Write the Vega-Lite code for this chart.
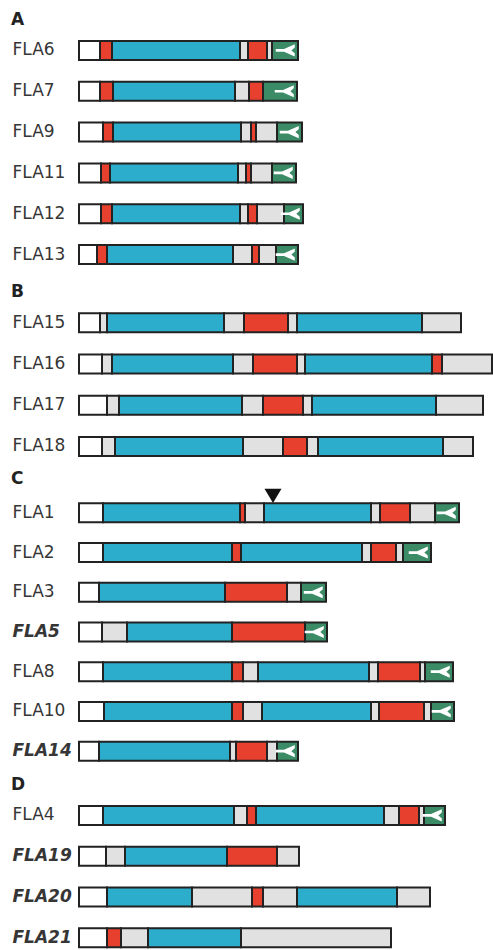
{
  "$schema": "https://vega.github.io/schema/vega-lite/v6.json",
  "background": "white",
  "padding": {"left": 0, "top": 11, "right": 0, "bottom": 0},
  "spacing": 8,
  "config": {
    "view": {"stroke": null},
    "title": {"anchor": "start", "frame": "group", "offset": 1, "dx": 11, "font": "DejaVu Sans", "fontSize": 17, "fontWeight": "bold", "color": "#222", "baseline": "bottom"},
    "axis": {
      "domain": false, "ticks": false, "tickSize": 0, "grid": false, "labelPadding": -12, "labelAlign": "left", "labelBaseline": "middle",
      "labelFont": "DejaVu Sans", "labelFontSize": 17, "labelColor": "#363636", "labelLimit": 200, "title": null,
      "labelFontStyle": {"condition": {"test": "indexof(['FLA5','FLA14','FLA19','FLA20','FLA21'], datum.value) >= 0", "value": "italic"}, "value": "normal"},
      "labelFontWeight": {"condition": {"test": "indexof(['FLA5','FLA14','FLA19','FLA20','FLA21'], datum.value) >= 0", "value": "bold"}, "value": "normal"}
    }
  },
  "datasets": {
    "segments": [
      {"section": "A", "protein": "FLA6", "type": "n", "start": 79, "end": 100},
      {"section": "A", "protein": "FLA6", "type": "red", "start": 100, "end": 112},
      {"section": "A", "protein": "FLA6", "type": "blue", "start": 112, "end": 240},
      {"section": "A", "protein": "FLA6", "type": "grey", "start": 240, "end": 248},
      {"section": "A", "protein": "FLA6", "type": "red", "start": 248, "end": 267},
      {"section": "A", "protein": "FLA6", "type": "grey", "start": 267, "end": 272},
      {"section": "A", "protein": "FLA6", "type": "gpi", "start": 272, "end": 298},
      {"section": "A", "protein": "FLA7", "type": "n", "start": 79, "end": 100},
      {"section": "A", "protein": "FLA7", "type": "red", "start": 100, "end": 113},
      {"section": "A", "protein": "FLA7", "type": "blue", "start": 113, "end": 235},
      {"section": "A", "protein": "FLA7", "type": "grey", "start": 235, "end": 249},
      {"section": "A", "protein": "FLA7", "type": "red", "start": 249, "end": 263},
      {"section": "A", "protein": "FLA7", "type": "gpi", "start": 263, "end": 297},
      {"section": "A", "protein": "FLA9", "type": "n", "start": 79, "end": 103},
      {"section": "A", "protein": "FLA9", "type": "red", "start": 103, "end": 113},
      {"section": "A", "protein": "FLA9", "type": "blue", "start": 113, "end": 241},
      {"section": "A", "protein": "FLA9", "type": "grey", "start": 241, "end": 251},
      {"section": "A", "protein": "FLA9", "type": "red", "start": 251, "end": 256},
      {"section": "A", "protein": "FLA9", "type": "grey", "start": 256, "end": 277},
      {"section": "A", "protein": "FLA9", "type": "gpi", "start": 277, "end": 302},
      {"section": "A", "protein": "FLA11", "type": "n", "start": 79, "end": 101},
      {"section": "A", "protein": "FLA11", "type": "red", "start": 101, "end": 110},
      {"section": "A", "protein": "FLA11", "type": "blue", "start": 110, "end": 238},
      {"section": "A", "protein": "FLA11", "type": "grey", "start": 238, "end": 246},
      {"section": "A", "protein": "FLA11", "type": "red", "start": 246, "end": 251},
      {"section": "A", "protein": "FLA11", "type": "grey", "start": 251, "end": 272},
      {"section": "A", "protein": "FLA11", "type": "gpi", "start": 272, "end": 296},
      {"section": "A", "protein": "FLA12", "type": "n", "start": 79, "end": 101},
      {"section": "A", "protein": "FLA12", "type": "red", "start": 101, "end": 112},
      {"section": "A", "protein": "FLA12", "type": "blue", "start": 112, "end": 240},
      {"section": "A", "protein": "FLA12", "type": "grey", "start": 240, "end": 248},
      {"section": "A", "protein": "FLA12", "type": "red", "start": 248, "end": 257},
      {"section": "A", "protein": "FLA12", "type": "grey", "start": 257, "end": 284},
      {"section": "A", "protein": "FLA12", "type": "gpi", "start": 284, "end": 303},
      {"section": "A", "protein": "FLA13", "type": "n", "start": 79, "end": 97},
      {"section": "A", "protein": "FLA13", "type": "red", "start": 97, "end": 107},
      {"section": "A", "protein": "FLA13", "type": "blue", "start": 107, "end": 233},
      {"section": "A", "protein": "FLA13", "type": "grey", "start": 233, "end": 252},
      {"section": "A", "protein": "FLA13", "type": "red", "start": 252, "end": 259},
      {"section": "A", "protein": "FLA13", "type": "grey", "start": 259, "end": 276},
      {"section": "A", "protein": "FLA13", "type": "gpi", "start": 276, "end": 298},
      {"section": "B", "protein": "FLA15", "type": "n", "start": 79, "end": 100},
      {"section": "B", "protein": "FLA15", "type": "grey", "start": 100, "end": 107},
      {"section": "B", "protein": "FLA15", "type": "blue", "start": 107, "end": 224},
      {"section": "B", "protein": "FLA15", "type": "grey", "start": 224, "end": 244},
      {"section": "B", "protein": "FLA15", "type": "red", "start": 244, "end": 288},
      {"section": "B", "protein": "FLA15", "type": "grey", "start": 288, "end": 297},
      {"section": "B", "protein": "FLA15", "type": "blue", "start": 297, "end": 422},
      {"section": "B", "protein": "FLA15", "type": "grey", "start": 422, "end": 461},
      {"section": "B", "protein": "FLA16", "type": "n", "start": 79, "end": 102},
      {"section": "B", "protein": "FLA16", "type": "grey", "start": 102, "end": 112},
      {"section": "B", "protein": "FLA16", "type": "blue", "start": 112, "end": 233},
      {"section": "B", "protein": "FLA16", "type": "grey", "start": 233, "end": 253},
      {"section": "B", "protein": "FLA16", "type": "red", "start": 253, "end": 297},
      {"section": "B", "protein": "FLA16", "type": "grey", "start": 297, "end": 305},
      {"section": "B", "protein": "FLA16", "type": "blue", "start": 305, "end": 432},
      {"section": "B", "protein": "FLA16", "type": "red", "start": 432, "end": 442},
      {"section": "B", "protein": "FLA16", "type": "grey", "start": 442, "end": 492},
      {"section": "B", "protein": "FLA17", "type": "n", "start": 79, "end": 107},
      {"section": "B", "protein": "FLA17", "type": "grey", "start": 107, "end": 119},
      {"section": "B", "protein": "FLA17", "type": "blue", "start": 119, "end": 242},
      {"section": "B", "protein": "FLA17", "type": "grey", "start": 242, "end": 263},
      {"section": "B", "protein": "FLA17", "type": "red", "start": 263, "end": 303},
      {"section": "B", "protein": "FLA17", "type": "grey", "start": 303, "end": 312},
      {"section": "B", "protein": "FLA17", "type": "blue", "start": 312, "end": 436},
      {"section": "B", "protein": "FLA17", "type": "grey", "start": 436, "end": 483},
      {"section": "B", "protein": "FLA18", "type": "n", "start": 79, "end": 102},
      {"section": "B", "protein": "FLA18", "type": "grey", "start": 102, "end": 115},
      {"section": "B", "protein": "FLA18", "type": "blue", "start": 115, "end": 243},
      {"section": "B", "protein": "FLA18", "type": "grey", "start": 243, "end": 283},
      {"section": "B", "protein": "FLA18", "type": "red", "start": 283, "end": 307},
      {"section": "B", "protein": "FLA18", "type": "grey", "start": 307, "end": 318},
      {"section": "B", "protein": "FLA18", "type": "blue", "start": 318, "end": 443},
      {"section": "B", "protein": "FLA18", "type": "grey", "start": 443, "end": 473},
      {"section": "C", "protein": "FLA1", "type": "n", "start": 79, "end": 103},
      {"section": "C", "protein": "FLA1", "type": "blue", "start": 103, "end": 240},
      {"section": "C", "protein": "FLA1", "type": "red", "start": 240, "end": 245},
      {"section": "C", "protein": "FLA1", "type": "grey", "start": 245, "end": 264},
      {"section": "C", "protein": "FLA1", "type": "blue", "start": 264, "end": 371},
      {"section": "C", "protein": "FLA1", "type": "grey", "start": 371, "end": 380},
      {"section": "C", "protein": "FLA1", "type": "red", "start": 380, "end": 410},
      {"section": "C", "protein": "FLA1", "type": "grey", "start": 410, "end": 435},
      {"section": "C", "protein": "FLA1", "type": "gpi", "start": 435, "end": 459},
      {"section": "C", "protein": "FLA2", "type": "n", "start": 79, "end": 103},
      {"section": "C", "protein": "FLA2", "type": "blue", "start": 103, "end": 232},
      {"section": "C", "protein": "FLA2", "type": "red", "start": 232, "end": 241},
      {"section": "C", "protein": "FLA2", "type": "blue", "start": 241, "end": 362},
      {"section": "C", "protein": "FLA2", "type": "grey", "start": 362, "end": 371},
      {"section": "C", "protein": "FLA2", "type": "red", "start": 371, "end": 396},
      {"section": "C", "protein": "FLA2", "type": "grey", "start": 396, "end": 403},
      {"section": "C", "protein": "FLA2", "type": "gpi", "start": 403, "end": 431},
      {"section": "C", "protein": "FLA3", "type": "n", "start": 79, "end": 99},
      {"section": "C", "protein": "FLA3", "type": "blue", "start": 99, "end": 225},
      {"section": "C", "protein": "FLA3", "type": "red", "start": 225, "end": 287},
      {"section": "C", "protein": "FLA3", "type": "grey", "start": 287, "end": 301},
      {"section": "C", "protein": "FLA3", "type": "gpi", "start": 301, "end": 326},
      {"section": "C", "protein": "FLA5", "type": "n", "start": 79, "end": 102},
      {"section": "C", "protein": "FLA5", "type": "grey", "start": 102, "end": 127},
      {"section": "C", "protein": "FLA5", "type": "blue", "start": 127, "end": 232},
      {"section": "C", "protein": "FLA5", "type": "red", "start": 232, "end": 305},
      {"section": "C", "protein": "FLA5", "type": "gpi", "start": 305, "end": 327},
      {"section": "C", "protein": "FLA8", "type": "n", "start": 79, "end": 103},
      {"section": "C", "protein": "FLA8", "type": "blue", "start": 103, "end": 232},
      {"section": "C", "protein": "FLA8", "type": "red", "start": 232, "end": 243},
      {"section": "C", "protein": "FLA8", "type": "grey", "start": 243, "end": 258},
      {"section": "C", "protein": "FLA8", "type": "blue", "start": 258, "end": 369},
      {"section": "C", "protein": "FLA8", "type": "grey", "start": 369, "end": 378},
      {"section": "C", "protein": "FLA8", "type": "red", "start": 378, "end": 420},
      {"section": "C", "protein": "FLA8", "type": "grey", "start": 420, "end": 425},
      {"section": "C", "protein": "FLA8", "type": "gpi", "start": 425, "end": 453},
      {"section": "C", "protein": "FLA10", "type": "n", "start": 79, "end": 104},
      {"section": "C", "protein": "FLA10", "type": "blue", "start": 104, "end": 232},
      {"section": "C", "protein": "FLA10", "type": "red", "start": 232, "end": 243},
      {"section": "C", "protein": "FLA10", "type": "grey", "start": 243, "end": 262},
      {"section": "C", "protein": "FLA10", "type": "blue", "start": 262, "end": 371},
      {"section": "C", "protein": "FLA10", "type": "grey", "start": 371, "end": 379},
      {"section": "C", "protein": "FLA10", "type": "red", "start": 379, "end": 424},
      {"section": "C", "protein": "FLA10", "type": "grey", "start": 424, "end": 431},
      {"section": "C", "protein": "FLA10", "type": "gpi", "start": 431, "end": 454},
      {"section": "C", "protein": "FLA14", "type": "n", "start": 79, "end": 99},
      {"section": "C", "protein": "FLA14", "type": "blue", "start": 99, "end": 230},
      {"section": "C", "protein": "FLA14", "type": "grey", "start": 230, "end": 236},
      {"section": "C", "protein": "FLA14", "type": "red", "start": 236, "end": 267},
      {"section": "C", "protein": "FLA14", "type": "grey", "start": 267, "end": 277},
      {"section": "C", "protein": "FLA14", "type": "gpi", "start": 277, "end": 298},
      {"section": "D", "protein": "FLA4", "type": "n", "start": 79, "end": 103},
      {"section": "D", "protein": "FLA4", "type": "blue", "start": 103, "end": 234},
      {"section": "D", "protein": "FLA4", "type": "grey", "start": 234, "end": 247},
      {"section": "D", "protein": "FLA4", "type": "red", "start": 247, "end": 256},
      {"section": "D", "protein": "FLA4", "type": "blue", "start": 256, "end": 384},
      {"section": "D", "protein": "FLA4", "type": "grey", "start": 384, "end": 399},
      {"section": "D", "protein": "FLA4", "type": "red", "start": 399, "end": 419},
      {"section": "D", "protein": "FLA4", "type": "grey", "start": 419, "end": 424},
      {"section": "D", "protein": "FLA4", "type": "gpi", "start": 424, "end": 445},
      {"section": "D", "protein": "FLA19", "type": "n", "start": 79, "end": 106},
      {"section": "D", "protein": "FLA19", "type": "grey", "start": 106, "end": 125},
      {"section": "D", "protein": "FLA19", "type": "blue", "start": 125, "end": 227},
      {"section": "D", "protein": "FLA19", "type": "red", "start": 227, "end": 277},
      {"section": "D", "protein": "FLA19", "type": "grey", "start": 277, "end": 299},
      {"section": "D", "protein": "FLA20", "type": "n", "start": 79, "end": 107},
      {"section": "D", "protein": "FLA20", "type": "blue", "start": 107, "end": 192},
      {"section": "D", "protein": "FLA20", "type": "grey", "start": 192, "end": 252},
      {"section": "D", "protein": "FLA20", "type": "red", "start": 252, "end": 263},
      {"section": "D", "protein": "FLA20", "type": "grey", "start": 263, "end": 297},
      {"section": "D", "protein": "FLA20", "type": "blue", "start": 297, "end": 397},
      {"section": "D", "protein": "FLA20", "type": "grey", "start": 397, "end": 430},
      {"section": "D", "protein": "FLA21", "type": "n", "start": 79, "end": 107},
      {"section": "D", "protein": "FLA21", "type": "red", "start": 107, "end": 121},
      {"section": "D", "protein": "FLA21", "type": "grey", "start": 121, "end": 148},
      {"section": "D", "protein": "FLA21", "type": "blue", "start": 148, "end": 241},
      {"section": "D", "protein": "FLA21", "type": "grey", "start": 241, "end": 391}
    ],
    "markers": [
      {"protein": "FLA1", "pos": 273}
    ]
  },
  "vconcat": [
    {
      "title": "A",
      "width": 493,
      "height": 245,
      "data": {"name": "segments"},
      "transform": [{"filter": "datum.section === 'A'"}],
      "layer": [
        {
          "mark": {"type": "bar", "size": 19, "stroke": "#222", "strokeWidth": 2},
          "encoding": {
            "y": {"field": "protein", "type": "nominal", "scale": {"domain": ["FLA6", "FLA7", "FLA9", "FLA11", "FLA12", "FLA13"], "paddingInner": 0, "paddingOuter": 0}},
            "x": {"field": "start", "type": "quantitative", "scale": {"domain": [0, 493], "nice": false, "zero": false}, "axis": null},
            "x2": {"field": "end"},
            "color": {"field": "type", "type": "nominal", "scale": {"domain": ["n", "blue", "red", "grey", "gpi"], "range": ["#ffffff", "#2badcb", "#e8402e", "#e1e1e2", "#3b8c66"]}, "legend": null}
          }
        },
        {
          "transform": [{"filter": "datum.type === 'gpi'"}],
          "mark": {"type": "point", "shape": "M-1,-0.14L-0.15,-0.14L0.95,-0.62L0.95,-0.3L0.6,0L0.95,0.3L0.95,0.62L-0.15,0.14L-1,0.14Z", "filled": true, "color": "white", "opacity": 1, "size": 380, "xOffset": -12.5},
          "encoding": {
            "y": {"field": "protein", "type": "nominal"},
            "x": {"field": "end", "type": "quantitative"}
          }
        }
      ]
    },
    {
      "spacing": 2,
      "vconcat": [
        {
          "title": "B",
          "width": 493,
          "height": 165,
          "data": {"name": "segments"},
          "transform": [{"filter": "datum.section === 'B'"}],
          "layer": [
            {
              "mark": {"type": "bar", "size": 19, "stroke": "#222", "strokeWidth": 2},
              "encoding": {
                "y": {"field": "protein", "type": "nominal", "scale": {"domain": ["FLA15", "FLA16", "FLA17", "FLA18"], "paddingInner": 0, "paddingOuter": 0}},
                "x": {"field": "start", "type": "quantitative", "scale": {"domain": [0, 493], "nice": false, "zero": false}, "axis": null},
                "x2": {"field": "end"},
                "color": {"field": "type", "type": "nominal", "scale": {"domain": ["n", "blue", "red", "grey", "gpi"], "range": ["#ffffff", "#2badcb", "#e8402e", "#e1e1e2", "#3b8c66"]}, "legend": null}
              }
            }
          ]
        },
        {
          "spacing": 5,
          "vconcat": [
            {
              "title": "C",
              "width": 493,
              "height": 278,
              "data": {"name": "segments"},
              "transform": [{"filter": "datum.section === 'C'"}],
              "layer": [
                {
                  "mark": {"type": "bar", "size": 19, "stroke": "#222", "strokeWidth": 2},
                  "encoding": {
                    "y": {"field": "protein", "type": "nominal", "scale": {"domain": ["FLA1", "FLA2", "FLA3", "FLA5", "FLA8", "FLA10", "FLA14"], "paddingInner": 0, "paddingOuter": 0}},
                    "x": {"field": "start", "type": "quantitative", "scale": {"domain": [0, 493], "nice": false, "zero": false}, "axis": null},
                    "x2": {"field": "end"},
                    "color": {"field": "type", "type": "nominal", "scale": {"domain": ["n", "blue", "red", "grey", "gpi"], "range": ["#ffffff", "#2badcb", "#e8402e", "#e1e1e2", "#3b8c66"]}, "legend": null}
                  }
                },
                {
                  "transform": [{"filter": "datum.type === 'gpi'"}],
                  "mark": {"type": "point", "shape": "M-1,-0.14L-0.15,-0.14L0.95,-0.62L0.95,-0.3L0.6,0L0.95,0.3L0.95,0.62L-0.15,0.14L-1,0.14Z", "filled": true, "color": "white", "opacity": 1, "size": 380, "xOffset": -12.5},
                  "encoding": {
                    "y": {"field": "protein", "type": "nominal"},
                    "x": {"field": "end", "type": "quantitative"}
                  }
                },
                {
                  "data": {"name": "markers"},
                  "mark": {"type": "point", "shape": "M-1,-0.85L1,-0.85L0,0.85Z", "filled": true, "color": "#111", "opacity": 1, "size": 289, "yOffset": -17},
                  "encoding": {
                    "y": {"field": "protein", "type": "nominal"},
                    "x": {"field": "pos", "type": "quantitative"}
                  }
                }
              ]
            },
            {
              "title": "D",
              "width": 493,
              "height": 163,
              "data": {"name": "segments"},
              "transform": [{"filter": "datum.section === 'D'"}],
              "layer": [
                {
                  "mark": {"type": "bar", "size": 19, "stroke": "#222", "strokeWidth": 2},
                  "encoding": {
                    "y": {"field": "protein", "type": "nominal", "scale": {"domain": ["FLA4", "FLA19", "FLA20", "FLA21"], "paddingInner": 0, "paddingOuter": 0}},
                    "x": {"field": "start", "type": "quantitative", "scale": {"domain": [0, 493], "nice": false, "zero": false}, "axis": null},
                    "x2": {"field": "end"},
                    "color": {"field": "type", "type": "nominal", "scale": {"domain": ["n", "blue", "red", "grey", "gpi"], "range": ["#ffffff", "#2badcb", "#e8402e", "#e1e1e2", "#3b8c66"]}, "legend": null}
                  }
                },
                {
                  "transform": [{"filter": "datum.type === 'gpi'"}],
                  "mark": {"type": "point", "shape": "M-1,-0.14L-0.15,-0.14L0.95,-0.62L0.95,-0.3L0.6,0L0.95,0.3L0.95,0.62L-0.15,0.14L-1,0.14Z", "filled": true, "color": "white", "opacity": 1, "size": 380, "xOffset": -12.5},
                  "encoding": {
                    "y": {"field": "protein", "type": "nominal"},
                    "x": {"field": "end", "type": "quantitative"}
                  }
                }
              ]
            }
          ]
        }
      ]
    }
  ]
}
